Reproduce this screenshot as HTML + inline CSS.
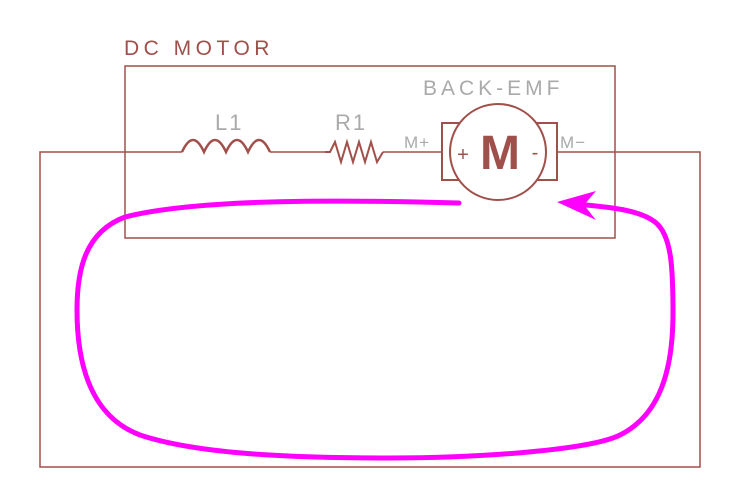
<!DOCTYPE html>
<html><head><style>html,body{margin:0;padding:0;background:#fff;}svg{display:block}</style></head>
<body>
<svg width="740" height="501" viewBox="0 0 740 501" xmlns="http://www.w3.org/2000/svg">
<g fill="none" stroke="#a0504a" stroke-width="1.5">
<rect x="125" y="66" width="490" height="172"/>
<polyline points="182,152 40,152 40,467 700,467 700,152 558,152"/>
<path d="M182,152 q11,-24 22,0 q11,-24 22,0 q11,-24 22,0 q11,-24 22,0" stroke-width="2.5"/>
<line x1="270" y1="152" x2="325" y2="152"/>
<polyline points="325,152 330,152 335,142 341,162 347,142 353,162 359,142 365,162 371,142 377,162 383,152" stroke-width="2"/>
<line x1="383" y1="152" x2="442" y2="152"/>
<rect x="442" y="123" width="115" height="57" stroke-width="2"/>
<circle cx="498" cy="152" r="48" fill="#fff" stroke-width="2"/>
</g>
<g font-family="'Liberation Sans',sans-serif">
<text x="124" y="55" font-size="21" fill="#a0504a" letter-spacing="4.5">DC MOTOR</text>
<text x="423" y="95" font-size="21" fill="#aaa" letter-spacing="4">BACK-EMF</text>
<text x="215" y="130" font-size="22" fill="#aaa" letter-spacing="2">L1</text>
<text x="335" y="130" font-size="22" fill="#aaa" letter-spacing="2">R1</text>
<text x="404" y="148" font-size="17" fill="#aaa" letter-spacing="1">M+</text>
<text x="560" y="148" font-size="17" fill="#aaa" letter-spacing="1">M−</text>
<text x="500" y="169" font-size="48" font-weight="bold" fill="#a0504a" text-anchor="middle">M</text>
<text x="463" y="161" font-size="20" fill="#a0504a" text-anchor="middle">+</text>
<text x="535" y="159" font-size="20" fill="#a0504a" text-anchor="middle">-</text>
</g>
<path d="M459,203 C350,200 200,198 125,217 C85,232 77,270 77,310 C77,380 100,420 140,435 C200,455 300,458 389,458 C480,458 590,450 620,435 C660,415 673,370 673,313 C673,270 672,235 655,222 C640,210 610,207 575,204" fill="none" stroke="#f0f" stroke-width="5" stroke-linecap="round"/>
<polygon points="557,202 596,191 584,205 596,220" fill="#f0f"/>
</svg>
</body></html>
